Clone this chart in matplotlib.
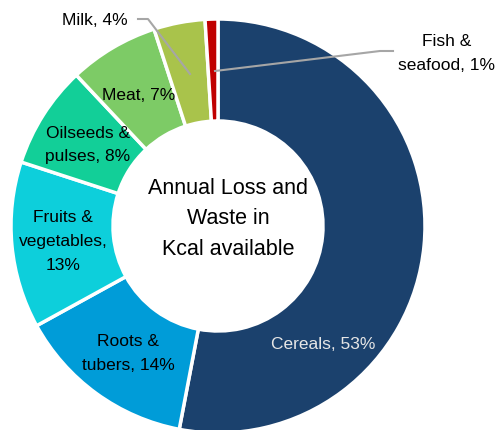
import matplotlib
matplotlib.use("Agg")
import matplotlib.pyplot as plt

labels = ["Cereals, 53%", "Roots &\ntubers, 14%", "Fruits &\nvegetables,\n13%",
          "Oilseeds &\npulses, 8%", "Meat, 7%", "Milk, 4%", "Fish &\nseafood, 1%"]
values = [53, 14, 13, 8, 7, 4, 1]
colors = ["#1B416D", "#009CD8", "#0DCFDB", "#12CF98", "#7DCB66", "#A9C34B", "#C00000"]
center_title = "Annual Loss and\nWaste in\nKcal available"

plt.rcParams["font.family"] = ["Liberation Sans", "DejaVu Sans"]

W, H = 503, 431
fig = plt.figure(figsize=(W / 100, H / 100), dpi=100)
ax = fig.add_axes([0, 0, 1, 1])

cx, cy, R = 218, H - 227, 207
wedges, _ = ax.pie(values, colors=colors, startangle=90, counterclock=False,
                   center=(cx, cy), radius=R,
                   wedgeprops=dict(width=R - 105, edgecolor="white", linewidth=2.5))
ax.set_xlim(0, W)
ax.set_ylim(0, H)
ax.set_aspect("equal")
ax.axis("off")

ax.text(cx + 10, cy + 8, center_title, ha="center", va="center", fontsize=15.5,
        linespacing=1.6, color="black")

fs = 12.5
# in-ring labels (x, y in pixels from top-left)
pos = {0: (323, 345), 1: (128, 354), 2: (63, 242), 3: (88, 145), 4: (139, 95)}
for i, (x, y) in pos.items():
    col = "#E6E6E6" if i == 0 else "black"
    ax.text(x, H - y, labels[i], ha="center", va="center", fontsize=fs,
            color=col, linespacing=1.75)

# outside labels with leader lines
ax.text(95, H - 20, labels[5], ha="center", va="center", fontsize=fs, color="black")
ax.plot([138, 148, 190], [H - 20, H - 20, H - 75], color="#A6A6A6", lw=1.5)
ax.text(447, H - 53, labels[6], ha="center", va="center", fontsize=fs,
        color="black", linespacing=1.75)
ax.plot([393, 380, 215], [H - 52, H - 52, H - 72], color="#A6A6A6", lw=1.5)

fig.savefig("out.png", dpi=100)
